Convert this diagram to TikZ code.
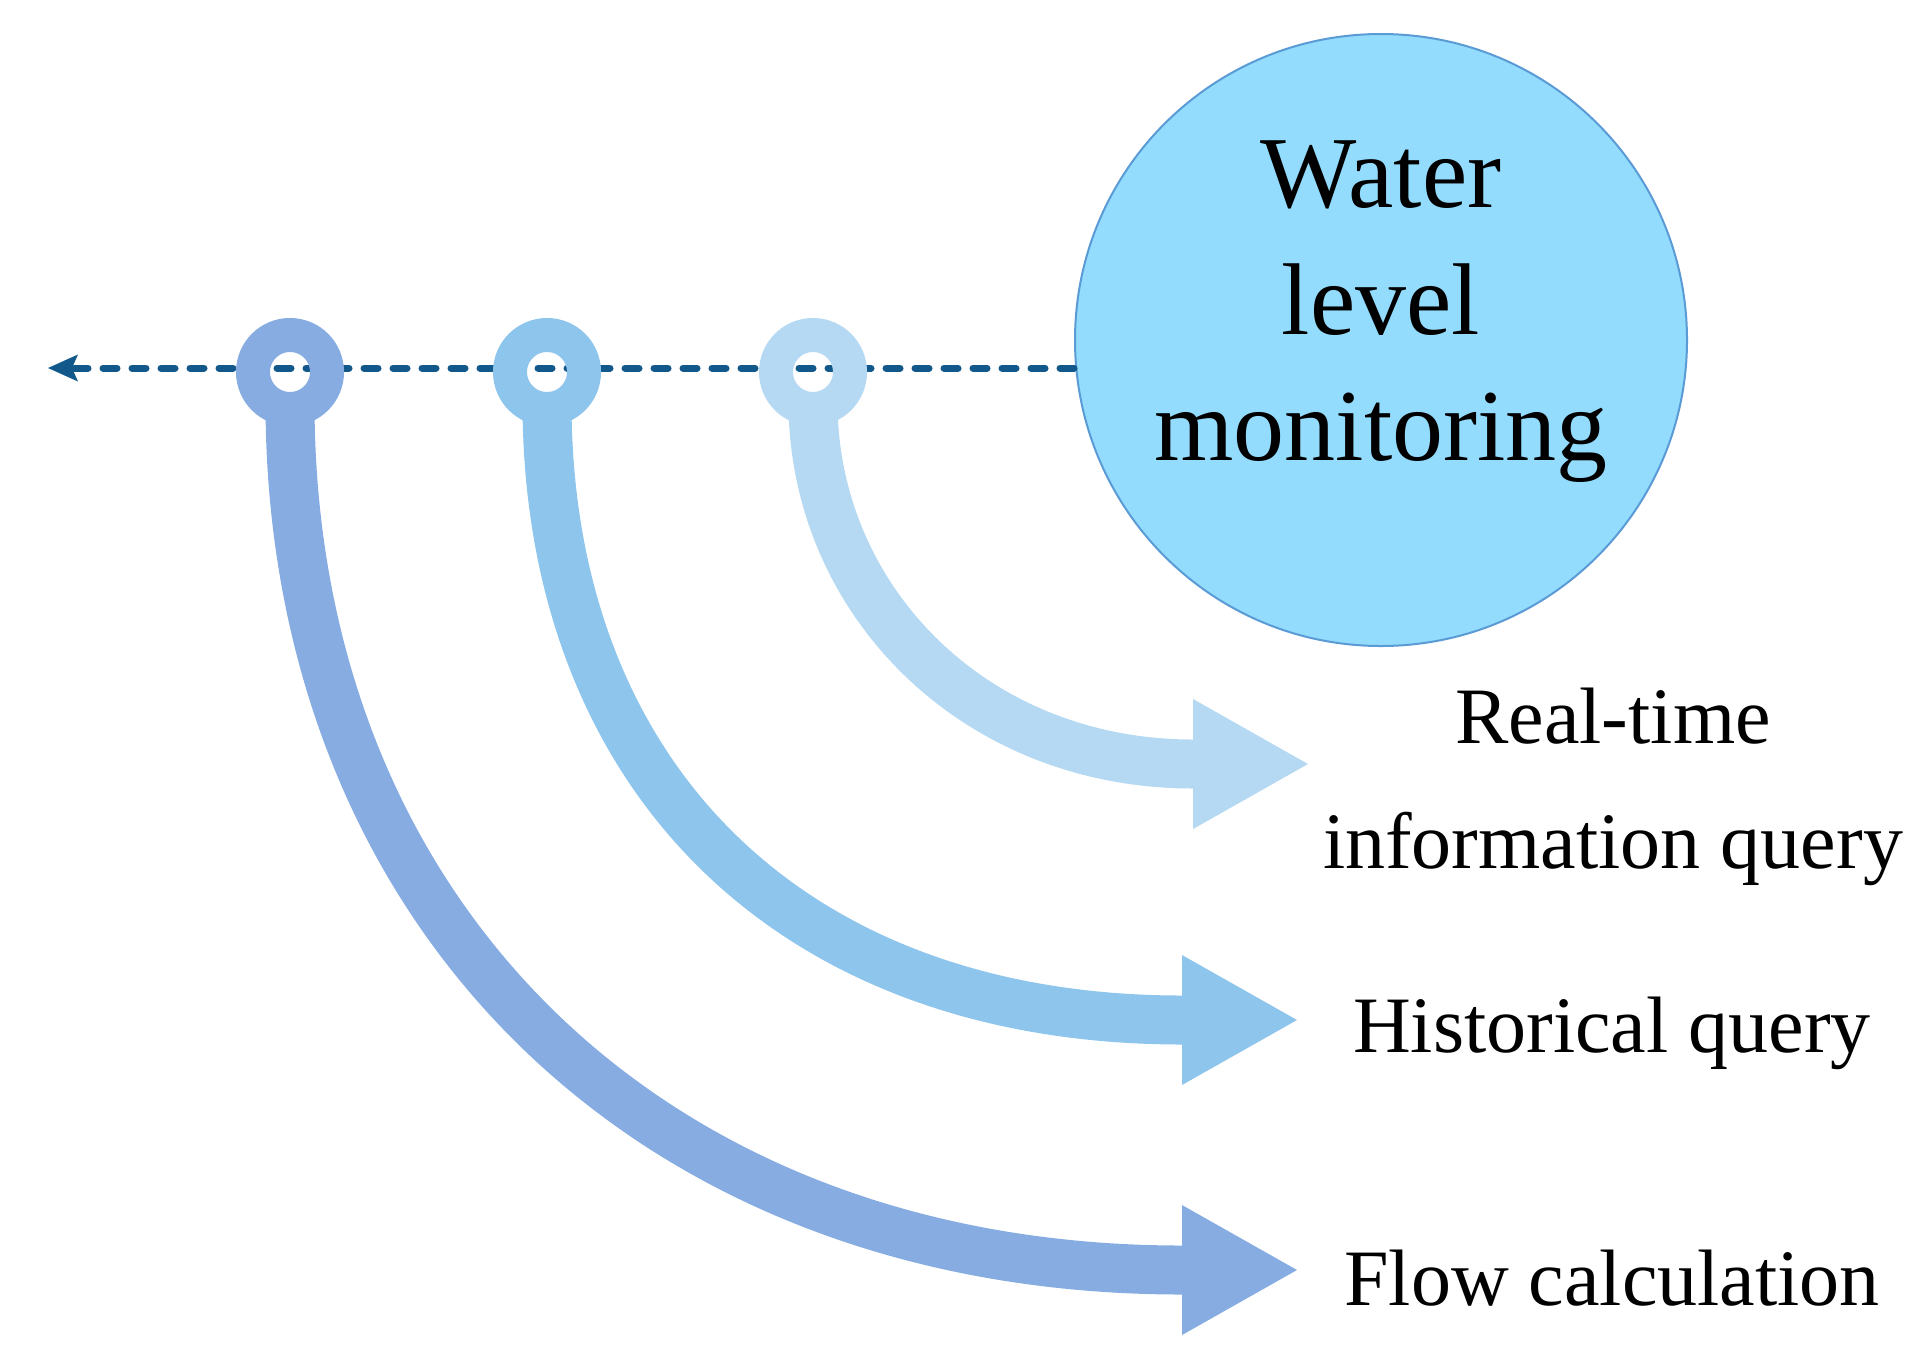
\documentclass[tikz,border=0pt]{standalone}
\usepackage{fontspec}
\setmainfont{Liberation Serif}
\usetikzlibrary{arrows.meta}
\definecolor{bandA}{RGB}{134,172,226}
\definecolor{bandB}{RGB}{142,197,236}
\definecolor{bandC}{RGB}{181,217,242}
\definecolor{circfill}{RGB}{147,220,253}
\definecolor{circline}{RGB}{90,155,213}
\definecolor{dashblue}{RGB}{18,88,138}
\begin{document}
\begin{tikzpicture}[x=1pt,y=-1pt,
  band/.style={line width=49pt, draw=#1, -{Triangle[length=115pt,width=130pt,line width=0pt]}},
  ring/.style={circle, draw=#1, line width=34pt, minimum size=74pt, inner sep=0pt, outer sep=0pt},
  lbl/.style={font=\fontsize{80}{125}\selectfont, align=center, inner sep=0pt}]
\useasboundingbox (0,0) rectangle (1926,1369);
% main circle
\node[circle, fill=circfill, draw=circline, line width=2pt, minimum size=612pt, inner sep=0pt] (wlm) at (1381,340) {};
\node[font=\fontsize{102}{126.5}\selectfont, align=center, inner sep=0pt, anchor=north] (wlmtext) at (1381,140.5) {Water\\level\\monitoring};
% dashed timeline
\coordinate (dashend) at (48,368);
\draw[dashblue, line width=7pt, dash pattern=on 14pt off 15pt, line cap=round,
  -{Stealth[length=30pt,width=27pt,inset=6pt,line width=0pt]}] (wlm.west |- dashend) -- (dashend);
% ring centres and arrow end points
\coordinate (c1) at (290,372);
\coordinate (c2) at (547,372);
\coordinate (c3) at (813,372);
\coordinate (h1b) at (1182,1270); \coordinate (h1t) at (1297,1270);
\coordinate (h2b) at (1182,1020); \coordinate (h2t) at (1297,1020);
\coordinate (h3b) at (1193,764);  \coordinate (h3t) at (1308,764);
% bands
\draw[band=bandA] ([yshift=-30pt]c1) .. controls (290,911) and (647,1270) .. (h1b) -- (h1t);
\draw[band=bandB] ([yshift=-30pt]c2) .. controls (547,774) and (788,1020) .. (h2b) -- (h2t);
\draw[band=bandC] ([yshift=-30pt]c3) .. controls (813,599) and (973,764) .. (h3b) -- (h3t);
% rings
\node[ring=bandA] (r1) at (c1) {};
\node[ring=bandB] (r2) at (c2) {};
\node[ring=bandC] (r3) at (c3) {};
% labels
\node[lbl, anchor=base] (rt) at (1613,868) {Real-time\\information query};
\node[lbl, anchor=base] (hq) at (1612,1052) {Historical query};
\node[lbl, anchor=base] (fc) at (1612,1305) {Flow calculation};
\end{tikzpicture}
\end{document}
